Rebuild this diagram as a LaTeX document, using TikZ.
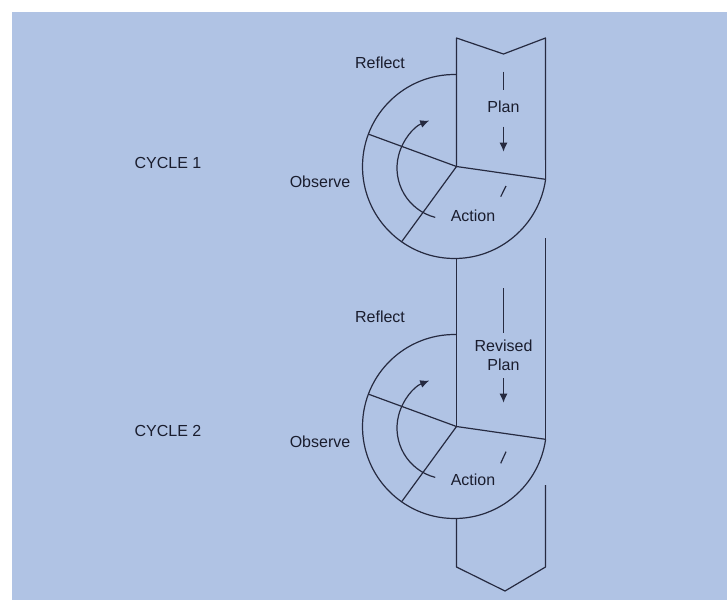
\documentclass[tikz,border=0pt]{standalone}
\usepackage{fontspec}
\setmainfont{Liberation Sans}
\usetikzlibrary{arrows.meta,calc}
\definecolor{bgblue}{RGB}{176,195,228}
\definecolor{ink}{RGB}{38,42,64}
\definecolor{txt}{RGB}{26,29,46}
\begin{document}
\begin{tikzpicture}[x=1pt,y=-1pt,
  line/.style={draw=ink,line width=1.2pt,line join=round},
  lbl/.style={text=txt,font=\fontsize{16}{19.5}\selectfont,inner sep=0pt},
  tip/.style={-{Latex[length=9pt,width=8pt]}}]
\useasboundingbox (0,0) rectangle (727,600);
\fill[white] (0,0) rectangle (727,600);
\fill[bgblue] (12,12) rectangle (727,600);

% the two cycle wheels
\foreach \n/\dy in {1/0,2/260}{
  \coordinate (hub\n) at (456.5,166.5+\dy);
  \coordinate (ctr\n) at (454.5,166.5+\dy);
  \coordinate (turn\n) at (448,168+\dy);
  \coordinate (rimtop\n) at ($(ctr\n)+(-89:92)$);
  \coordinate (rimobs\n) at ($(ctr\n)+(-159.4:92)$);
  \coordinate (rimact\n) at ($(ctr\n)+(-234.9:92)$);
  \coordinate (rimend\n) at ($(ctr\n)+(-352:92)$);
  \coordinate (turnstart\n) at ($(turn\n)+(-255.5:51)$);
  % outer rim
  \draw[line] (rimtop\n) arc[start angle=-89, end angle=-352, radius=92];
  % sector dividers
  \draw[line] (hub\n) -- (rimobs\n);
  \draw[line] (hub\n) -- (rimact\n);
  \draw[line] (hub\n) -- (rimend\n);
  % rotation arrow
  \draw[line,tip] (turnstart\n) arc[start angle=-255.5, end angle=-111.6, radius=51];
}

% the vertical band
\coordinate (bandTL) at (456.5,38);
\coordinate (bandTN) at (503.5,54);
\coordinate (bandTR) at (545.5,38);
\coordinate (midL) at (456.5,258.5);
\coordinate (midR1) at (545.5,238);
\coordinate (midR2) at (545.5,440.7);
\coordinate (lowL) at (456.5,518.5);
\coordinate (bandBL) at (456.5,567);
\coordinate (bandBN) at (505,591);
\coordinate (bandBR) at (545.5,567);
\coordinate (lowR) at (545.5,485);
\draw[line] (hub1) -- (bandTL) -- (bandTN) -- (bandTR) -- (rimend1);
\draw[line] (midL) -- (hub2);
\draw[line] (midR1) -- (midR2);
\draw[line] (lowL) -- (bandBL) -- (bandBN) -- (bandBR) -- (lowR);

% labels
\node[lbl] (cycleA) at (168,162.7) {CYCLE 1};
\node[lbl] (cycleB) at (168,430.7) {CYCLE 2};
\node[lbl] (reflectA) at (380,63) {Reflect};
\node[lbl] (reflectB) at (380,317) {Reflect};
\node[lbl] (observeA) at (320,181.7) {Observe};
\node[lbl] (observeB) at (320,441.7) {Observe};
\node[lbl] (actionA) at (473,215.5) {Action};
\node[lbl] (actionB) at (473,479.5) {Action};
\node[lbl] (planA) at (503.5,106.5) {Plan};
\node[lbl,align=center] (planB) at (503.5,355.3) {Revised\\Plan};

% plan flow marks
\coordinate (pa0) at (503.5,71.7);
\coordinate (pa1) at (503.5,90);
\coordinate (pa2) at (503.5,126.7);
\coordinate (pa3) at (503.5,151.7);
\draw[line] (pa0) -- (pa1);
\draw[line,tip] (pa2) -- (pa3);
\coordinate (pb0) at (503.5,288.3);
\coordinate (pb1) at (503.5,333.3);
\coordinate (pb2) at (503.5,378.3);
\coordinate (pb3) at (503.5,402.7);
\draw[line] (pb0) -- (pb1);
\draw[line,tip] (pb2) -- (pb3);

% small strokes in the action sectors
\coordinate (sa0) at (506,186);
\coordinate (sa1) at (500.7,196.7);
\coordinate (sb0) at (506,451.7);
\coordinate (sb1) at (500.7,463.3);
\draw[line] (sa0) -- (sa1);
\draw[line] (sb0) -- (sb1);
\end{tikzpicture}
\end{document}
